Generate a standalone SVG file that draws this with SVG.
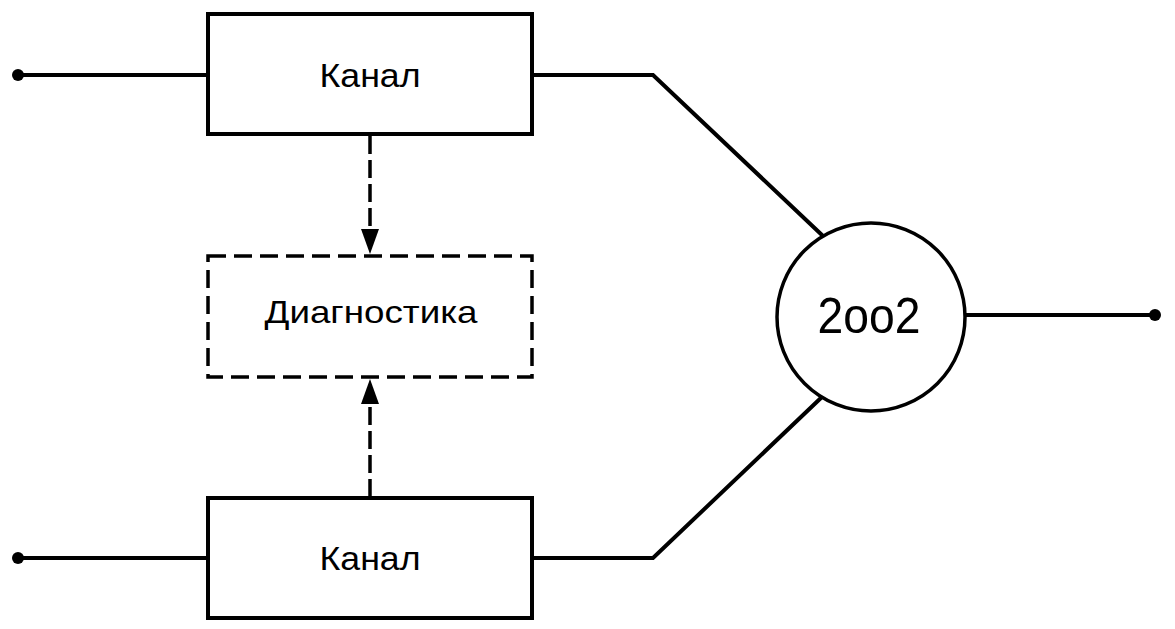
<svg xmlns="http://www.w3.org/2000/svg" width="1175" height="629" viewBox="0 0 1175 629">
<style>
.box{fill:#fff;stroke:#000;stroke-width:4}
.dbox{fill:#fff;stroke:#000;stroke-width:3.5;stroke-dasharray:18,8}
.ln{fill:none;stroke:#000;stroke-width:4;stroke-linejoin:miter}
.dl{fill:none;stroke:#000;stroke-width:3.5;stroke-dasharray:18,6}
.t{font-family:"Liberation Sans",Arial,sans-serif;fill:#000;text-anchor:middle}
</style>
<rect width="1175" height="629" fill="#fff"/>
<g id="connectors">
<line class="ln" x1="18" y1="75" x2="208" y2="75"/>
<circle cx="18" cy="75" r="6" fill="#000"/>
<line class="ln" x1="18" y1="558" x2="208" y2="558"/>
<circle cx="18" cy="558" r="6" fill="#000"/>
<polyline class="ln" points="532,75 653,75 823,236"/>
<polyline class="ln" points="532,558 653,558 823,396"/>
<line class="ln" x1="966" y1="315" x2="1155" y2="315"/>
<circle cx="1155" cy="315" r="6" fill="#000"/>
<line class="dl" x1="370" y1="136" x2="370" y2="230"/>
<path d="M361,229 L379,229 L370,254 Z" fill="#000"/>
<line class="dl" x1="370" y1="497" x2="370" y2="403"/>
<path d="M361,404 L379,404 L370,379 Z" fill="#000"/>
</g>
<g id="channel1">
<rect class="box" x="208" y="14" width="324" height="120"/>
<text class="t" x="370" y="87" font-size="34" textLength="101" lengthAdjust="spacingAndGlyphs">Канал</text>
</g>
<g id="diagnostics">
<rect class="dbox" x="208" y="256" width="324" height="121"/>
<text class="t" x="371" y="323" font-size="32" textLength="213" lengthAdjust="spacingAndGlyphs">Диагностика</text>
</g>
<g id="channel2">
<rect class="box" x="208" y="498" width="324" height="120"/>
<text class="t" x="370" y="570" font-size="34" textLength="101" lengthAdjust="spacingAndGlyphs">Канал</text>
</g>
<g id="voter">
<circle cx="871" cy="317" r="94" fill="#fff" stroke="#000" stroke-width="3.5"/>
<text class="t" x="869" y="333" font-size="50" textLength="103" lengthAdjust="spacingAndGlyphs">2oo2</text>
</g>
</svg>
